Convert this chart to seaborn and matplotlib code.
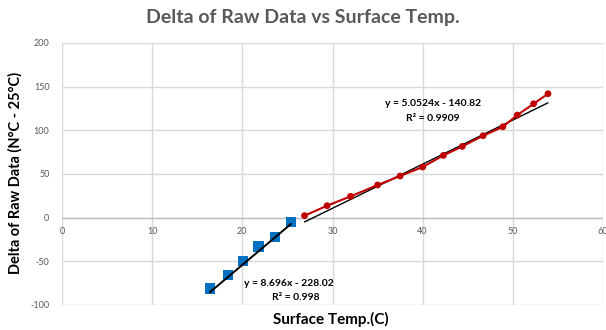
import numpy as np
import pandas as pd
import matplotlib
matplotlib.use("Agg")
import matplotlib.pyplot as plt
import seaborn as sns

# Data
blue_x = [16.4, 18.4, 20.1, 21.8, 23.6, 25.4]
blue_y = [-81, -66, -50, -33, -22, -5]
red_x = [26.9, 29.4, 32.0, 35.0, 37.5, 40.0, 42.3, 44.4, 46.7, 48.9, 50.5, 52.3, 53.9]
red_y = [2.3, 13.7, 24.4, 37.4, 47.7, 58.0, 71.3, 81.6, 93.8, 104.1, 117.5, 130.4, 141.9]
blue_fit = (8.696, -228.02)
red_fit = (5.0524, -140.82)
blue_eq = ["y = 8.696x - 228.02", "R² = 0.998"]
red_eq = ["y = 5.0524x - 140.82", "R² = 0.9909"]
x_ticks = [0, 10, 20, 30, 40, 50, 60]
y_ticks = [-100, -50, 0, 50, 100, 150, 200]
title = "Delta of Raw Data vs Surface Temp."
xlabel = "Surface Temp.(C)"
ylabel = "Delta of Raw Data (N°C - 25°C)"

sns.set_style("white")
plt.rcParams['font.family'] = ['Lato', 'DejaVu Sans']

W, H = 606, 330
fig = plt.figure(figsize=(W / 100, H / 100), dpi=100)
ax = fig.add_axes([62 / W, 1 - 305 / H, (603 - 62) / W, (305 - 43) / H])

blue_df = pd.DataFrame({"x": blue_x, "y": blue_y})
red_df = pd.DataFrame({"x": red_x, "y": red_y})

grid_c = "#d9d9d9"
for t in x_ticks:
    ax.axvline(t, color=grid_c, lw=1, zorder=0)
for t in y_ticks:
    ax.axhline(t, color=grid_c, lw=1, zorder=0)
ax.axhline(0, color="#bfbfbf", lw=1, zorder=0.5)

# red connecting line
sns.lineplot(data=red_df, x="x", y="y", ax=ax, color="#c00000", lw=1.5, zorder=3)
sns.scatterplot(data=red_df, x="x", y="y", ax=ax, color="#c00000", s=24,
                marker="o", edgecolor="none", zorder=4)
sns.scatterplot(data=blue_df, x="x", y="y", ax=ax, color="#0070c0", s=55,
                marker="s", edgecolor="none", zorder=3)

# trendlines
bx = np.array([min(blue_x), max(blue_x)])
ax.plot(bx, blue_fit[0] * bx + blue_fit[1], color="black", lw=1.4, zorder=5)
rx = np.array([min(red_x), max(red_x)])
ax.plot(rx, red_fit[0] * rx + red_fit[1], color="black", lw=1.0, zorder=2)

ax.set_xlim(0, 60)
ax.set_ylim(-100, 200)
ax.set_xticks(x_ticks)
ax.set_yticks(y_ticks)
ax.tick_params(length=0, labelsize=6.5, colors="#595959")
for s in ax.spines.values():
    s.set_visible(False)
ax.set_xticklabels([])
ax.set_yticklabels([str(t) for t in y_ticks])
ax.tick_params(axis="y", pad=9)

# x tick labels placed just below the y=0 axis line
for t in x_ticks:
    ax.annotate(str(t), xy=(t, 0), xytext=(0, -10), textcoords="offset points",
                ha="center", va="center", fontsize=6.5, color="#595959",
                annotation_clip=False)

ax.set_xlabel("")
ax.set_ylabel("")
fig.text(331 / W, 1 - 319 / H, xlabel, ha="center", va="center",
         fontsize=11, fontweight="bold", color="black")
fig.text(15 / W, 1 - 173 / H, ylabel, ha="center", va="center", rotation=90,
         fontsize=10.5, fontweight="bold", color="black")
fig.text(303 / W, 1 - 17 / H, title, ha="center", va="center",
         fontsize=14, fontweight="bold", color="#595959")

fig.text(289 / W, 1 - 283 / H, blue_eq[0], ha="center", va="center",
         fontsize=7.5, fontweight="bold", color="black")
fig.text(296 / W, 1 - 297 / H, blue_eq[1], ha="center", va="center",
         fontsize=7.5, fontweight="bold", color="black")
fig.text(433 / W, 1 - 104 / H, red_eq[0], ha="center", va="center",
         fontsize=7.5, fontweight="bold", color="black")
fig.text(433 / W, 1 - 118 / H, red_eq[1], ha="center", va="center",
         fontsize=7.5, fontweight="bold", color="black")

fig.savefig("out.png", dpi=100, facecolor="white")
